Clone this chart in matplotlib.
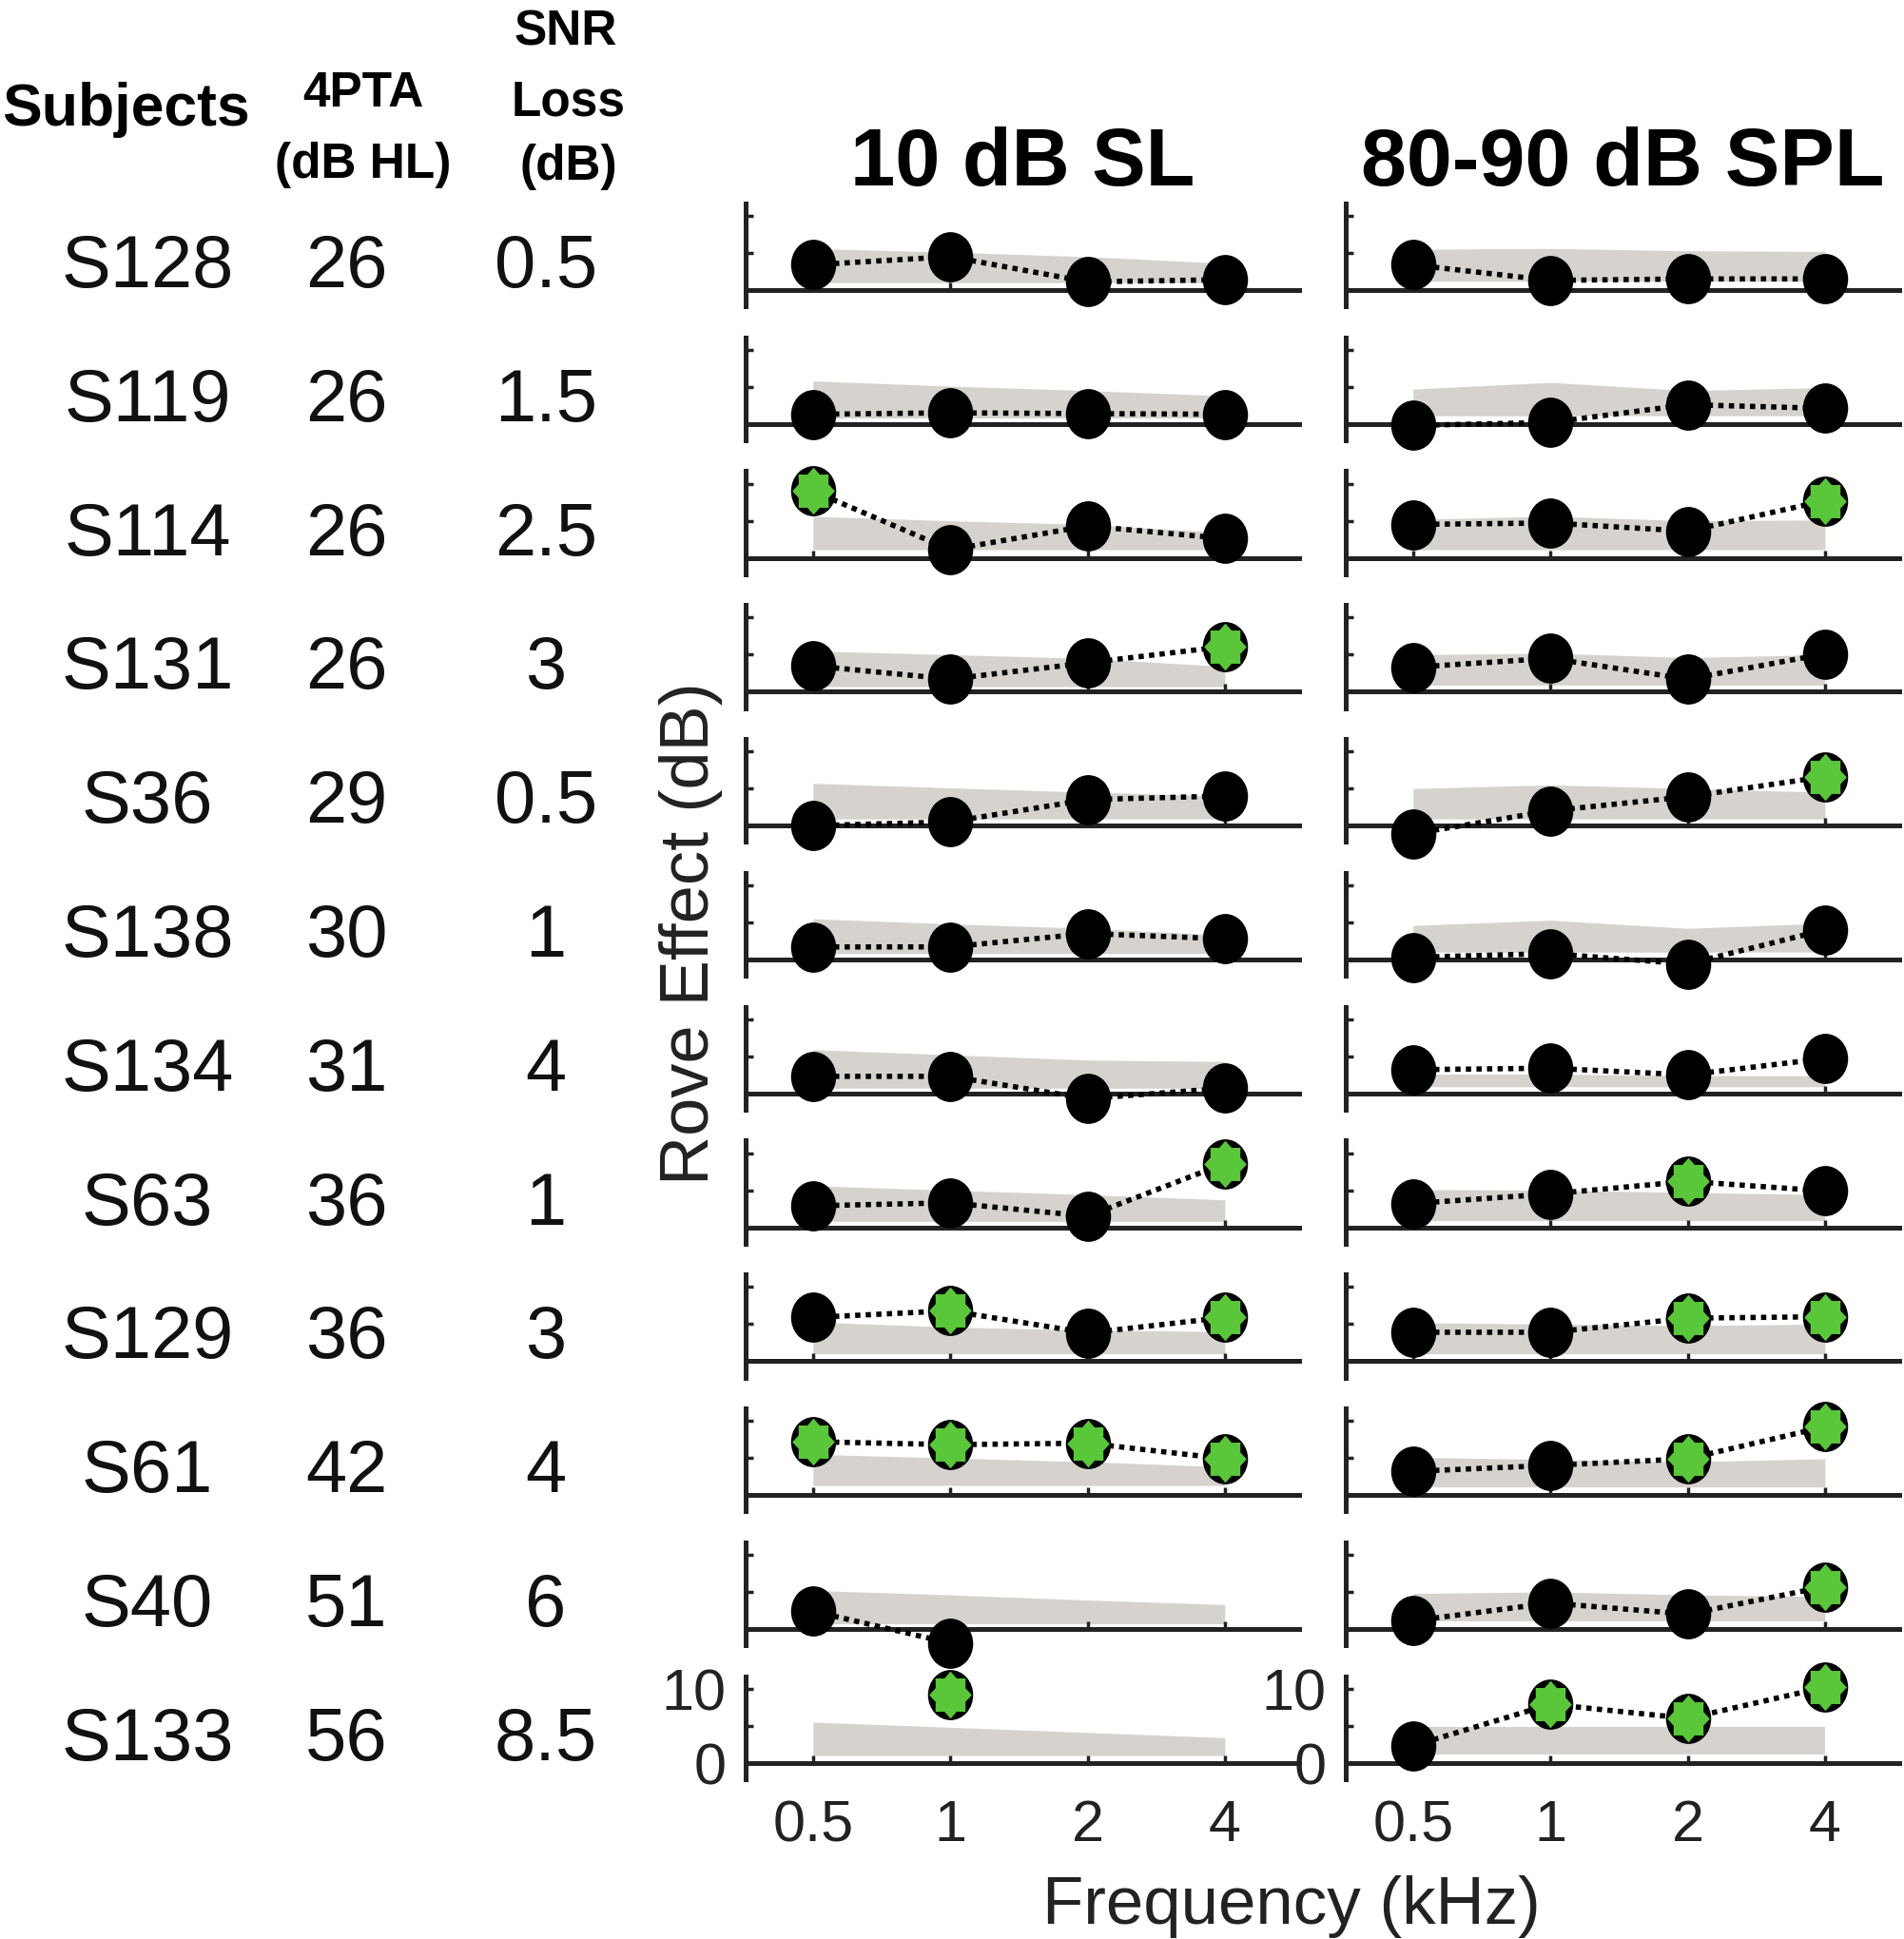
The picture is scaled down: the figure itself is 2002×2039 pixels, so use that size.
import numpy as np
import matplotlib
matplotlib.use('Agg')
import matplotlib.pyplot as plt
from matplotlib.path import Path
from matplotlib.ticker import FixedLocator, NullLocator, FixedFormatter

plt.rcParams['font.family'] = ['Liberation Sans', 'DejaVu Sans']

# ---------------- data ----------------
subjects = ['S128', 'S119', 'S114', 'S131', 'S36', 'S138',
            'S134', 'S63', 'S129', 'S61', 'S40', 'S133']
pta_db_hl = [26, 26, 26, 26, 29, 30, 31, 36, 36, 42, 51, 56]
snr_loss_db = [0.5, 1.5, 2.5, 3, 0.5, 1, 4, 1, 3, 4, 6, 8.5]

freqs_khz = [0.5, 1, 2, 4]
freq_labels = ['0.5', '1', '2', '4']
nan = np.nan

# 10 dB SL condition: rove effect (dB) at 0.5, 1, 2, 4 kHz
rove_sl = [
    [3.4, 4.5, 1.1, 1.4],
    [1.3, 1.5, 1.4, 1.3],
    [9.0, 1.1, 4.3, 2.6],
    [3.5, 1.7, 3.9, 6.1],
    [0.0, 0.5, 3.5, 4.0],
    [1.7, 1.7, 3.5, 2.8],
    [2.3, 2.3, -0.7, 0.7],
    [2.9, 3.3, 1.5, 8.6],
    [5.9, 6.8, 3.8, 5.9],
    [7.2, 6.8, 7.0, 4.9],
    [2.4, -1.9, nan, nan],
    [nan, 9.2, nan, nan],
]
sig_sl = [
    [0, 0, 0, 0], [0, 0, 0, 0], [1, 0, 0, 0], [0, 0, 0, 1],
    [0, 0, 0, 0], [0, 0, 0, 0], [0, 0, 0, 0], [0, 0, 0, 1],
    [0, 1, 0, 1], [1, 1, 1, 1], [0, 0, 0, 0], [0, 1, 0, 0],
]
band_hi_sl = [
    [5.6, 5.1, 4.5, 3.6],
    [5.8, 5.1, 4.5, 3.8],
    [5.6, 5.0, 4.5, 3.4],
    [5.5, 5.0, 4.5, 3.4],
    [5.7, 5.1, 4.5, 4.0],
    [5.5, 4.8, 4.2, 3.3],
    [5.9, 5.2, 4.5, 4.3],
    [5.6, 5.0, 4.4, 3.7],
    [5.3, 4.6, 4.2, 4.0],
    [5.5, 5.0, 4.5, 3.8],
    [5.2, 4.6, 3.9, 3.3],
    [5.5, 4.8, 4.1, 3.4],
]
band_lo_sl = [
    [1.0, 1.0, 1.0, 1.0], [0.8, 0.8, 0.8, 0.8], [1.1, 1.1, 1.1, 1.1],
    [0.7, 0.7, 0.7, 0.7], [0.9, 0.9, 0.9, 0.9], [0.8, 0.8, 0.8, 0.8],
    [0.7, 0.7, 0.7, 0.7], [0.8, 0.8, 0.8, 0.8], [1.0, 1.0, 1.0, 1.0],
    [1.3, 1.3, 1.3, 1.3], [0.7, 0.7, 0.7, 0.7], [1.0, 1.0, 1.0, 1.0],
]

# 80-90 dB SPL condition
rove_spl = [
    [3.4, 1.3, 1.5, 1.5],
    [-0.2, 0.2, 2.6, 2.1],
    [4.5, 4.7, 3.6, 7.7],
    [3.3, 4.5, 1.7, 5.1],
    [-1.1, 2.0, 3.9, 6.6],
    [0.3, 0.8, -0.6, 4.0],
    [3.2, 3.4, 2.5, 4.7],
    [3.2, 4.5, 6.2, 4.9],
    [3.9, 3.9, 5.8, 6.0],
    [3.2, 4.0, 4.9, 9.2],
    [1.1, 3.5, 2.0, 5.7],
    [2.3, 7.9, 6.0, 10.2],
]
sig_spl = [
    [0, 0, 0, 0], [0, 0, 0, 0], [0, 0, 0, 1], [0, 0, 0, 0],
    [0, 0, 0, 1], [0, 0, 0, 0], [0, 0, 0, 0], [0, 0, 1, 0],
    [0, 0, 1, 1], [0, 0, 1, 1], [0, 0, 0, 1], [0, 1, 1, 1],
]
band_hi_spl = [
    [5.5, 5.6, 5.3, 5.2],
    [4.7, 5.6, 4.5, 4.9],
    [5.2, 5.6, 5.0, 5.1],
    [5.0, 5.2, 4.6, 5.0],
    [5.0, 5.5, 5.0, 4.5],
    [4.6, 5.3, 4.2, 4.9],
    [2.6, 2.6, 2.4, 2.4],
    [5.1, 5.0, 4.7, 4.4],
    [5.2, 5.0, 4.8, 5.0],
    [5.1, 4.8, 4.5, 4.9],
    [4.8, 5.0, 4.6, 4.4],
    [4.9, 4.9, 4.9, 4.9],
]
band_lo_spl = [
    [1.2, 1.2, 1.2, 1.2], [1.1, 1.1, 1.1, 1.1], [1.1, 1.1, 1.1, 1.1],
    [0.9, 0.9, 0.9, 0.9], [0.9, 0.9, 0.9, 0.9], [1.0, 1.0, 1.0, 1.0],
    [0.9, 0.9, 0.9, 0.9], [0.9, 0.9, 0.9, 0.9], [1.0, 1.0, 1.0, 1.0],
    [1.1, 1.1, 1.1, 1.1], [1.1, 1.1, 1.1, 1.1], [1.1, 1.1, 1.1, 1.1],
]

col_titles = ['10 dB SL', '80-90 dB SPL']
y_ticks = [0, 5, 10]
y_ticklabels = ['0', '', '10']

# ---------------- style / layout ----------------
W, H, DPI = 2002, 2040, 100
AXC = '#222222'
BAND = '#d6d3ce'
GREEN = '#5ac63a'
YMIN, YMAX = -2.2, 11.7
PX_PER_DB = 7.8
ZERO0, ROWSTEP = 306.0, 140.8
COLS = [(784, 1366), (1415, 1997)]
XLIM = (0.356, 5.82)
MS = 38.0

fig = plt.figure(figsize=(W / DPI, H / DPI), dpi=DPI)


def ftext(x, y, s, **kw):
    fig.text(x / W, 1 - y / H, s, **kw)


# marker paths (slightly tall ellipse and 8-point star)
circ = Path.unit_circle()
ELL = Path(circ.vertices * np.array([0.9, 1.0]), circ.codes)
n = 8
ang = np.pi / 2 + np.arange(2 * n) * np.pi / n
rad = np.where(np.arange(2 * n) % 2 == 0, 1.0, 0.76)
sv = np.c_[rad * np.cos(ang) * 0.9, rad * np.sin(ang)]
sv = np.vstack([sv, sv[0]])
STAR = Path(sv, [Path.MOVETO] + [Path.LINETO] * (2 * n - 1) + [Path.CLOSEPOLY])

conds = [(rove_sl, sig_sl, band_lo_sl, band_hi_sl),
         (rove_spl, sig_spl, band_lo_spl, band_hi_spl)]

for r in range(len(subjects)):
    y0 = ZERO0 + r * ROWSTEP
    top = y0 - YMAX * PX_PER_DB
    bot = y0 - YMIN * PX_PER_DB
    for c, (x0, x1) in enumerate(COLS):
        ax = fig.add_axes([x0 / W, 1 - bot / H, (x1 - x0) / W, (bot - top) / H])
        ax.patch.set_visible(False)
        rove, sig, blo, bhi = conds[c]
        vals = np.array(rove[r], float)
        ax.fill_between(freqs_khz, blo[r], bhi[r], color=BAND, lw=0, zorder=1)
        ax.plot(freqs_khz, vals, color='black', lw=4.0, ls=(0, (1.0, 1.0)),
                zorder=3, clip_on=False)
        ax.plot(freqs_khz, vals, ls='none', marker=ELL, ms=MS, mfc='black',
                mec='black', mew=0, zorder=4, clip_on=False)
        sf = [f for f, s, v in zip(freqs_khz, sig[r], vals) if s and not np.isnan(v)]
        sv_ = [v for s, v in zip(sig[r], vals) if s and not np.isnan(v)]
        if sf:
            ax.plot(sf, sv_, ls='none', marker=STAR, ms=MS * 0.94, mfc=GREEN,
                    mec=GREEN, mew=0, zorder=5, clip_on=False)

        ax.set_xscale('log', base=2)
        ax.set_xlim(*XLIM)
        ax.set_ylim(YMIN, YMAX)
        ax.spines['top'].set_visible(False)
        ax.spines['right'].set_visible(False)
        ax.spines['bottom'].set_position(('data', 0))
        for s in ('left', 'bottom'):
            ax.spines[s].set_linewidth(3.6)
            ax.spines[s].set_color(AXC)
            ax.spines[s].set_zorder(2)
        ax.xaxis.set_major_locator(FixedLocator(freqs_khz))
        ax.xaxis.set_minor_locator(NullLocator())
        ax.xaxis.set_major_formatter(FixedFormatter(freq_labels))
        ax.yaxis.set_major_locator(FixedLocator(y_ticks))
        ax.yaxis.set_minor_locator(NullLocator())
        ax.yaxis.set_major_formatter(FixedFormatter(y_ticklabels))
        ax.tick_params(direction='in', length=6, width=2.5, color=AXC,
                       labelcolor='#222222', labelsize=44)
        ax.tick_params(axis='x', pad=27)
        ax.tick_params(axis='y', pad=15)
        if r < len(subjects) - 1:
            ax.tick_params(labelbottom=False, labelleft=False)
        if r == 0:
            ftext((x0 + x1) / 2, 195, col_titles[c], ha='center', va='baseline',
                  fontsize=61 if c == 0 else 62, fontweight='bold', color='black')

# ---------------- table text ----------------
ftext(133, 132, 'Subjects', ha='center', va='baseline', fontsize=45, fontweight='bold')
ftext(382, 112, '4PTA', ha='center', va='baseline', fontsize=37, fontweight='bold')
ftext(382, 187, '(dB HL)', ha='center', va='baseline', fontsize=37, fontweight='bold')
ftext(595, 47, 'SNR', ha='center', va='baseline', fontsize=37, fontweight='bold')
ftext(598, 122, 'Loss', ha='center', va='baseline', fontsize=37, fontweight='bold')
ftext(598, 189, '(dB)', ha='center', va='baseline', fontsize=37, fontweight='bold')

for r in range(len(subjects)):
    yb = 302 + r * ROWSTEP
    ftext(155, yb, subjects[r], ha='center', va='baseline', fontsize=56, color='#111111')
    ftext(364, yb, f'{pta_db_hl[r]:g}', ha='center', va='baseline', fontsize=56, color='#111111')
    ftext(574, yb, f'{snr_loss_db[r]:g}', ha='center', va='baseline', fontsize=56, color='#111111')

ftext(726, 982, 'Rove Effect (dB)', ha='center', va='center', rotation=90,
      fontsize=52, color='#222222')
ftext(1358, 2023, 'Frequency (kHz)', ha='center', va='baseline', fontsize=51,
      color='#222222')

fig.savefig('out.png', dpi=DPI)
